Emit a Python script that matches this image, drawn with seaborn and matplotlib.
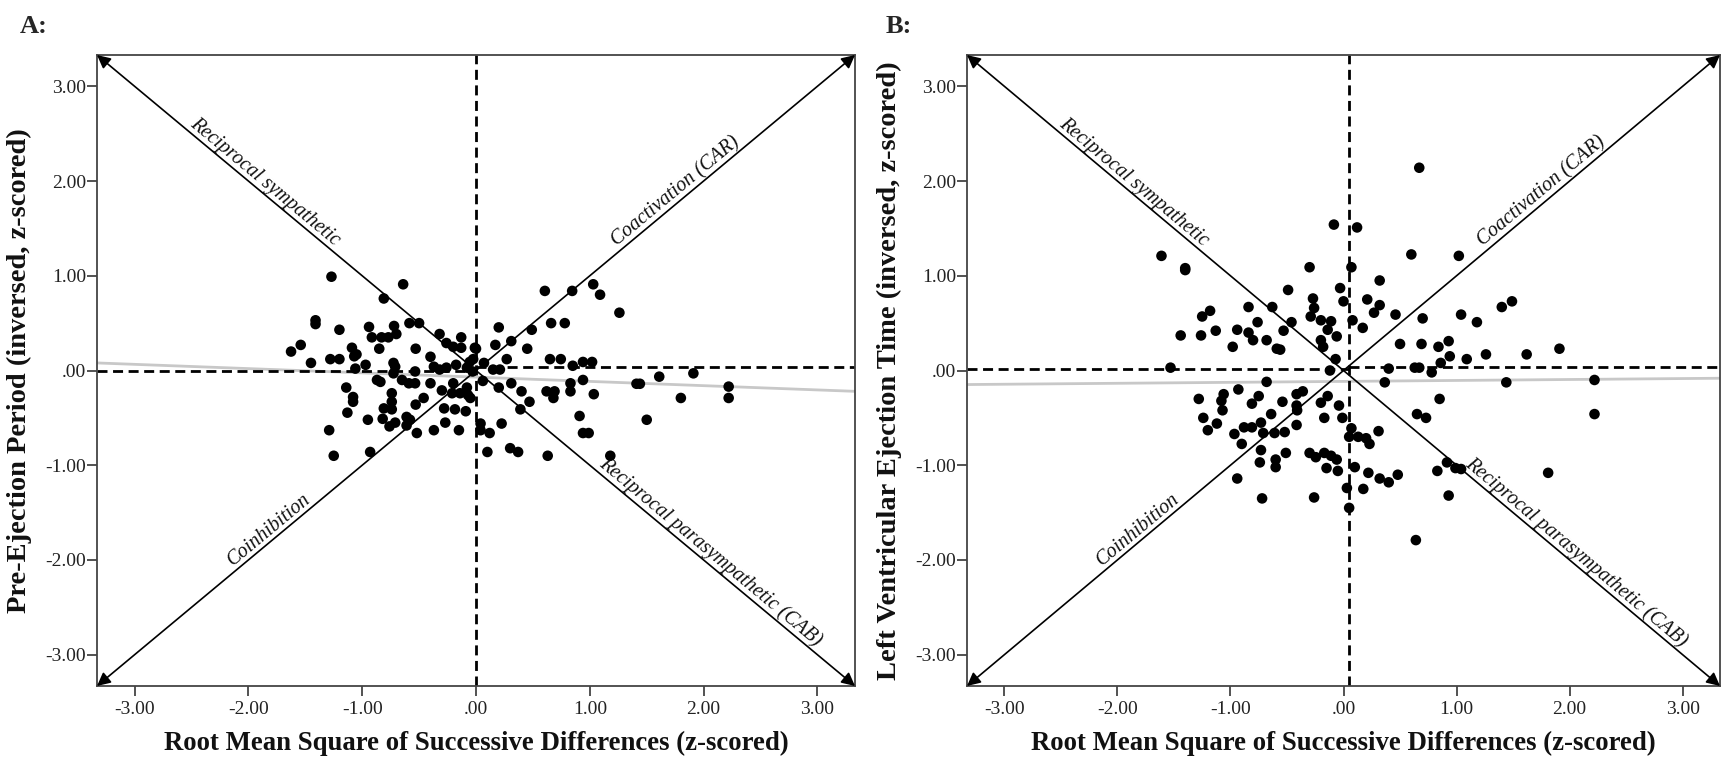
import numpy as np
import pandas as pd
import matplotlib
matplotlib.use("Agg")
import matplotlib.pyplot as plt
import seaborn as sns

# ---------------- data ----------------
rmssd_a = [-1.27, -0.64, -0.81, -1.41, -1.41, -1.20, -0.94, -0.72, -0.585, -0.50, -0.915, -0.83, -0.77,
           -0.70, -0.85, -0.32, -0.53, -0.13, -0.26, -0.20, -0.13, -0.01, -1.625, -1.54, -1.45, -1.28,
           -1.20, -1.09, -1.07, -1.05, -0.97, -1.06, -0.725, -0.71, -0.87, -0.84, -0.725, -0.65, -0.59,
           -0.535, -0.535, -0.40, -0.40, -0.37, -0.32, -0.26, -0.175, -0.08, -0.055, -0.025, -1.14, -1.08,
           -1.08, -1.13, -0.95, -0.74, -0.74, -0.81, -0.74, -0.82, -0.76, -0.71, -0.61, -0.58, -0.61,
           -0.53, -0.46, -0.52, -0.37, -0.27, -0.15, -0.28, -0.185, -0.09, -0.30, -0.20, -0.14, -0.07,
           -0.05, -0.08, -0.21, -1.29, -1.25, -0.93, -0.03,
           0.605, 0.845, 1.03, 1.09, 1.26, 0.66, 0.78, 0.20, 0.49, 0.17, 0.31, 0.45, 0.27, 0.65, 0.745,
           0.85, 0.94, 1.02, 0.07, 0.21, 0.15, 0.0, 0.31, 0.40, 0.20, 0.06, 0.47, 0.39, 0.62, 0.69, 0.68,
           0.83, 0.83, 0.94, 1.035, 0.91, 0.94, 0.99, 1.50, 1.41, 1.44, 1.61, 1.80, 1.91, 2.22, 2.22,
           0.225, 0.12, 0.04, 0.04, 0.10, 0.30, 0.37, 0.63, 1.18]
pep_a = [0.99, 0.91, 0.76, 0.53, 0.49, 0.43, 0.46, 0.47, 0.50, 0.50, 0.35, 0.35, 0.35,
         0.385, 0.23, 0.385, 0.23, 0.35, 0.29, 0.25, 0.24, 0.24, 0.20, 0.27, 0.08, 0.12,
         0.12, 0.24, 0.15, 0.17, 0.06, 0.02, 0.08, 0.04, -0.10, -0.12, -0.03, -0.10, -0.135,
         -0.135, -0.01, -0.135, 0.145, 0.04, 0.01, 0.03, 0.06, 0.03, 0.09, 0.12, -0.18, -0.28,
         -0.33, -0.445, -0.52, -0.24, -0.33, -0.40, -0.41, -0.51, -0.59, -0.55, -0.49, -0.52, -0.58,
         -0.36, -0.29, -0.66, -0.63, -0.55, -0.63, -0.40, -0.41, -0.43, -0.21, -0.135, -0.24, -0.26,
         -0.29, -0.18, -0.24, -0.63, -0.90, -0.86, -0.01,
         0.84, 0.84, 0.91, 0.80, 0.61, 0.50, 0.50, 0.455, 0.43, 0.27, 0.31, 0.23, 0.12, 0.12, 0.12,
         0.05, 0.09, 0.09, 0.08, 0.01, 0.01, 0.23, -0.135, -0.22, -0.18, -0.11, -0.33, -0.41, -0.22, -0.22, -0.29,
         -0.135, -0.22, -0.10, -0.25, -0.48, -0.66, -0.66, -0.52, -0.14, -0.14, -0.065, -0.29, -0.03, -0.17, -0.29,
         -0.56, -0.66, -0.56, -0.63, -0.86, -0.82, -0.86, -0.90, -0.90]

rmssd_b = [-1.61, -1.40, -1.40, -0.49, -0.84, -0.63, -1.25, -1.18, -1.44, -1.26, -1.13, -0.94, -0.84,
           -0.80, -0.76, -0.98, -0.68, -0.59, -0.56, -0.53, -0.46, -1.53, -0.68, -1.28, -1.06, -1.08,
           -0.93, -0.75, -0.81, -0.54, -0.415, -0.415,
           -1.07, -1.24, -1.12, -1.20, -0.64, -0.415, -0.965, -0.90, -0.88, -0.81, -0.73, -0.71, -0.61,
           -0.52, -0.73, -0.74, -0.60, -0.51, -0.60, -0.94, -0.72,
           0.67, -0.085, 0.12, 0.60, 1.02, -0.30, 0.07, 0.32, -0.03, -0.27, 0.00, -0.26, -0.29, -0.20,
           -0.11, -0.14, -0.06, -0.20, -0.18, -0.07, -0.12, 0.08, 0.17, 0.21, 0.32, 0.27, 0.46, 0.70,
           1.04, 1.18, 1.40, 1.49, 0.50, 0.69, 0.84, 0.93, 0.94, 0.86, 1.09, 1.26, 1.62, 1.91, 0.40,
           0.63, 0.67, 0.78, 0.365, 1.44, 2.22, 0.85, 0.65, 0.73, 2.22, -0.36, -0.20, -0.14, -0.04,
           -0.41, -0.17, -0.01, 0.07, 0.05, 0.13, 0.20, 0.23, 0.31, -0.30, -0.245, -0.17, -0.11, -0.06,
           -0.15, -0.05, 0.10, 0.22, 0.32, 0.40, 0.48, 0.03, 0.175, 0.05, -0.26, 0.83, 0.915, 0.99,
           1.04, 0.93, 1.81, 0.64]
lvet_b = [1.21, 1.08, 1.06, 0.85, 0.67, 0.67, 0.57, 0.63, 0.37, 0.37, 0.42, 0.43, 0.40,
          0.32, 0.51, 0.25, 0.32, 0.23, 0.22, 0.42, 0.51, 0.03, -0.12, -0.30, -0.25, -0.32,
          -0.20, -0.27, -0.35, -0.33, -0.25, -0.37,
          -0.42, -0.50, -0.56, -0.63, -0.46, -0.575, -0.67, -0.775, -0.60, -0.60, -0.55, -0.66, -0.66,
          -0.65, -0.84, -0.97, -0.94, -0.87, -1.02, -1.14, -1.35,
          2.14, 1.54, 1.51, 1.225, 1.21, 1.09, 1.09, 0.95, 0.87, 0.76, 0.73, 0.66, 0.57, 0.53,
          0.52, 0.43, 0.36, 0.32, 0.25, 0.12, 0.00, 0.53, 0.45, 0.75, 0.69, 0.61, 0.59, 0.55,
          0.59, 0.51, 0.67, 0.73, 0.28, 0.28, 0.25, 0.31, 0.15, 0.08, 0.12, 0.17, 0.17, 0.23, 0.02,
          0.03, 0.03, -0.02, -0.125, -0.125, -0.10, -0.30, -0.46, -0.50, -0.46, -0.22, -0.34, -0.27, -0.37,
          -0.42, -0.50, -0.50, -0.61, -0.70, -0.70, -0.715, -0.775, -0.64, -0.87, -0.915, -0.87, -0.90, -0.94,
          -1.03, -1.06, -1.02, -1.08, -1.14, -1.18, -1.10, -1.24, -1.25, -1.45, -1.34, -1.06, -0.97, -1.03,
          -1.04, -1.32, -1.08, -1.79]

tick_values = [-3, -2, -1, 0, 1, 2, 3]
tick_labels = ["-3.00", "-2.00", "-1.00", ".00", "1.00", "2.00", "3.00"]
axis_limit = 3.33

fit_a = (-0.07, -0.045)    # (intercept, slope) of grey fit line, panel A
fit_b = (-0.115, 0.010)    # panel B
mean_a = (0.0, 0.0, 0.04)     # vertical x, horizontal y left, horizontal y right
mean_b = (0.045, 0.015, 0.04)

diag_labels = [("Reciprocal sympathetic", -1.91, -1),
               ("Coactivation (CAR)", 1.81, 1),
               ("Coinhibition", -1.76, 1),
               ("Reciprocal parasympathetic (CAB)", 2.0, -1)]

x_label = "Root Mean Square of Successive Differences (z-scored)"
y_label_a = "Pre-Ejection Period (inversed, z-scored)"
y_label_b = "Left Ventricular Ejection Time (inversed, z-scored)"

# ---------------- style ----------------
sns.set_theme(style="white")
plt.rcParams["font.family"] = ["Liberation Serif", "DejaVu Serif"]
plt.rcParams["axes.edgecolor"] = "#444444"
plt.rcParams["axes.linewidth"] = 1.3

fig = plt.figure(figsize=(17.22, 7.61), dpi=100)
ax_a = fig.add_axes([97 / 1722, 1 - 686 / 761, 758 / 1722, 631 / 761])
ax_b = fig.add_axes([967 / 1722, 1 - 686 / 761, 753 / 1722, 631 / 761])


def draw_panel(ax, xs, ys, fit, means, ylab):
    lim = axis_limit
    ax.set_xlim(-lim, lim)
    ax.set_ylim(-lim, lim)
    # grey fit line
    ax.axline((0, fit[0]), slope=fit[1], color="#c8c8c8", lw=2.0, zorder=1)
    # dashed mean lines
    xv, yl, yr = means
    dash = (0, (3.6, 2.0))
    ax.axvline(xv, color="black", lw=2.0, linestyle=dash, zorder=2)
    ax.plot([-lim, xv], [yl, yl], color="black", lw=2.0, linestyle=dash, zorder=2)
    ax.plot([xv, lim], [yr, yr], color="black", lw=2.0, linestyle=dash, zorder=2)
    # diagonal double arrows
    arrow = dict(arrowstyle="<|-|>", color="black", lw=1.2, mutation_scale=20,
                 shrinkA=0, shrinkB=0)
    ax.annotate("", xy=(lim, lim), xytext=(-lim, -lim), arrowprops=arrow,
                annotation_clip=False, zorder=3)
    ax.annotate("", xy=(lim, -lim), xytext=(-lim, lim), arrowprops=arrow,
                annotation_clip=False, zorder=3)
    for text, xpos, sign in diag_labels:
        ax.text(xpos, sign * xpos, text, rotation=45 * sign, transform_rotates_text=True,
                rotation_mode="anchor", ha="center", va="bottom", fontstyle="italic",
                fontsize=14.5, color="#111111", zorder=4)
    # points
    df = pd.DataFrame({"x": xs, "y": ys})
    sns.scatterplot(data=df, x="x", y="y", ax=ax, color="black", s=58,
                    edgecolor="none", linewidth=0, zorder=5, legend=False)
    ax.set_xticks(tick_values)
    ax.set_xticklabels(tick_labels)
    ax.set_yticks(tick_values)
    ax.set_yticklabels(tick_labels)
    ax.tick_params(axis="both", which="major", direction="out", length=7, width=1.3,
                   color="#444444", labelsize=14, labelcolor="#222222",
                   bottom=True, left=True, top=False, right=False)
    ax.tick_params(axis="x", pad=4)
    ax.tick_params(axis="y", pad=1)
    ax.set_xlabel(x_label, fontsize=19.3, fontweight="bold", color="#111111")
    ax.set_ylabel(ylab, fontsize=20.5, fontweight="bold", color="#111111")
    ax.xaxis.set_label_coords(0.5, -0.071)
    ax.yaxis.set_label_coords(-0.086, 0.5)
    for sp in ax.spines.values():
        sp.set_visible(True)
        sp.set_color("#444444")
        sp.set_linewidth(1.3)


draw_panel(ax_a, rmssd_a, pep_a, fit_a, mean_a, y_label_a)
draw_panel(ax_b, rmssd_b, lvet_b, fit_b, mean_b, y_label_b)

fig.text(20 / 1722, 1 - 33 / 761, "A:", fontsize=19, fontweight="bold", va="baseline", ha="left")
fig.text(886 / 1722, 1 - 33 / 761, "B:", fontsize=19, fontweight="bold", va="baseline", ha="left")

fig.savefig("out.png", dpi=100)
